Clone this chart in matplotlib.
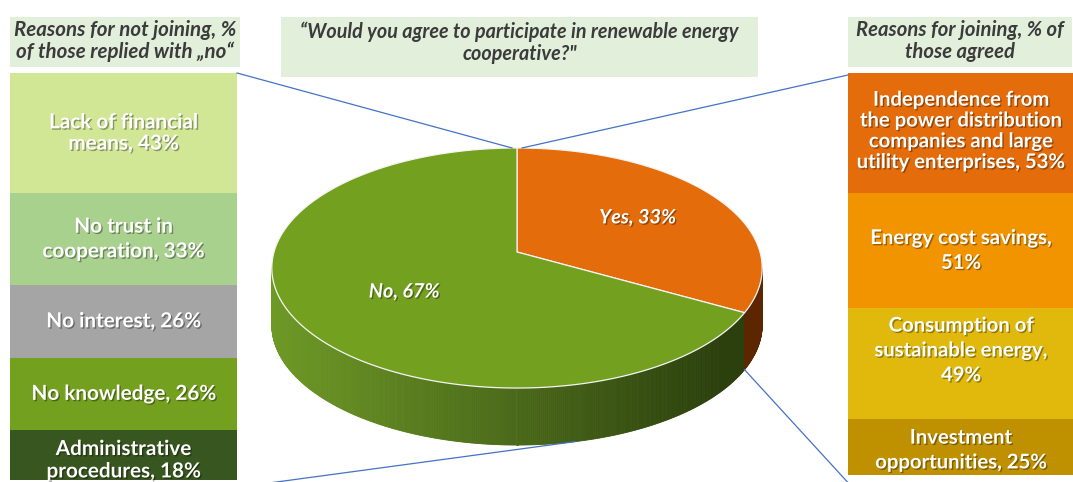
import numpy as np
import matplotlib
matplotlib.use("Agg")
import matplotlib.pyplot as plt
from matplotlib.patches import Polygon, Rectangle
import matplotlib.patheffects as pe

# ---------------- data ----------------
pie_labels = ["Yes", "No"]
pie_values = [33, 67]

no_reasons = ["Lack of financial\nmeans", "No trust in\ncooperation", "No interest",
              "No knowledge", "Administrative\nprocedures"]
no_seps = [", ", ", ", ", ", ", ", ", "]
no_values = [43, 33, 26, 26, 18]
no_colors = ["#D2E795", "#A9D18E", "#A5A5A5", "#74A01F", "#38561F"]

yes_reasons = ["Independence from\nthe power distribution\ncompanies and large\nutility enterprises",
               "Energy cost savings", "Consumption of\nsustainable energy", "Investment\nopportunities"]
yes_seps = [", ", ",\n", ",\n", ", "]
yes_values = [53, 51, 49, 25]
yes_colors = ["#E46C0A", "#F29300", "#E0B90C", "#BF9000"]

title_center = "\u201cWould you agree to participate in renewable energy\ncooperative?\""
title_left = "Reasons for not joining, %\nof those replied with \u201eno\u201c"
title_right = "Reasons for joining, % of\nthose agreed"

# text layout tweaks (style only)
no_spacing = [1.08, 1.3, 1.1, 1.1, 1.15]
no_dy = [0, 0, 0, 0, 5]
yes_spacing = [1.05, 1.3, 1.3, 1.3]
yes_dy = [-2, 0, -13, 3]

plt.rcParams["font.family"] = ["Lato", "DejaVu Sans"]

W, H = 1073, 482
fig = plt.figure(figsize=(W / 100, H / 100), dpi=100)
ax = fig.add_axes([0, 0, 1, 1])
ax.set_xlim(0, W)
ax.set_ylim(H, 0)
ax.axis("off")

TITLE_BG = "#E2EFDA"
TXT_DARK = "#3B3B3B"
LINE_C = "#4472C4"
shadow = [pe.withSimplePatchShadow(offset=(1, -1), shadow_rgbFace="black", alpha=0.35)]

# ---------------- side stacked boxes ----------------
TOP = 73
L_X0, L_W, L_SCALE = 10, 227, 2.79
R_X0, R_W, R_SCALE = 848, 226, 2.26

def stacked(x0, w, scale, cats, seps, vals, cols, fs, spacing, dys):
    bottoms = TOP + np.concatenate([[0], np.cumsum(vals)[:-1]]) * scale
    heights = np.array(vals) * scale
    ax.bar(x0 + w / 2, heights, bottom=bottoms, width=w, color=cols, edgecolor="none", zorder=2)
    for c, s, v, b, h, ls, dy in zip(cats, seps, vals, bottoms, heights, spacing, dys):
        ax.text(x0 + w / 2, b + h / 2 + dy, f"{c}{s}{v}%", ha="center", va="center",
                color="white", fontsize=fs, fontweight="bold", linespacing=ls,
                path_effects=shadow, zorder=5)
    return bottoms, heights

lb, lh = stacked(L_X0, L_W, L_SCALE, no_reasons, no_seps, no_values, no_colors, 14.9,
                 no_spacing, no_dy)
rb, rh = stacked(R_X0, R_W, R_SCALE, yes_reasons, yes_seps, yes_values, yes_colors, 14.6,
                 yes_spacing, yes_dy)

# ---------------- title boxes ----------------
def title_box(x0, x1, y0, y1, txt, ty, fs):
    ax.add_patch(Rectangle((x0, y0), x1 - x0, y1 - y0, facecolor=TITLE_BG, edgecolor="none", zorder=1))
    ax.text((x0 + x1) / 2, ty, txt, ha="center", va="center", color=TXT_DARK,
            fontsize=fs, fontweight="bold", fontstyle="italic", linespacing=1.12, zorder=5)

title_box(10, 240, 17, 67, title_left, 41, 14.8)
title_box(848, 1072, 17, 67, title_right, 41, 14.6)
title_box(281, 758, 17, 77, title_center, 43, 14.2)

# ---------------- 3D pie ----------------
CX, CY, R, RY, K, DEPTH = 517, 252, 243, 117.9, 0.1333, 57

def proj(t_deg, r=1.0, drop=0.0):
    t = np.radians(t_deg)
    u, v = r * np.cos(t), r * np.sin(t)
    s = 1.0 / (1.0 + K * v)
    return CX + R * u * s, CY - RY * v * s + drop

fracs = np.array(pie_values) / np.sum(pie_values)
starts = 90 - np.concatenate([[0], np.cumsum(fracs)[:-1]]) * 360
ends = starts - fracs * 360
top_cols = ["#E46C0A", "#74A01F"]

def slice_of(t):
    for i, (a, b) in enumerate(zip(starts, ends)):
        tt = t
        while tt > a:
            tt -= 360
        while tt < b:
            tt += 360
        if b <= tt <= a:
            return i
    return 1

# side strips (visible front part)
edge = np.degrees(np.arcsin(K))
ts = np.linspace(-180 + edge, -edge, 400)
green_l = np.array([0.43, 0.60, 0.15])
green_d = np.array([0.17, 0.25, 0.05])
brown_l = np.array([0.45, 0.19, 0.0])
brown_d = np.array([0.36, 0.15, 0.0])
for t0, t1 in zip(ts[:-1], ts[1:]):
    tm = (t0 + t1) / 2
    x0, y0 = proj(t0)
    x1, y1 = proj(t1)
    xm = (x0 + x1) / 2
    f = np.clip((xm - (CX - R)) / (2 * R * 0.92), 0, 1)
    i = slice_of(tm)
    col = (green_l * (1 - f) + green_d * f) if i == 1 else (brown_l * (1 - f) + brown_d * f)
    poly = [(x0, y0), (x1, y1), (x1, y1 + DEPTH), (x0, y0 + DEPTH)]
    ax.add_patch(Polygon(poly, closed=True, facecolor=col, edgecolor=col, lw=0.6, zorder=3))

# top face
for i, (a, b) in enumerate(zip(starts, ends)):
    angs = np.linspace(a, b, 200)
    pts = [proj(t) for t in angs]
    poly = [(CX, CY)] + pts
    ax.add_patch(Polygon(poly, closed=True, facecolor=top_cols[i], edgecolor="#F4F4F4",
                         lw=0.9, zorder=4, joinstyle="round"))

# pie labels
label_r = [0.6, 0.6]
label_dx = [0, 18]
for i, (lab, v) in enumerate(zip(pie_labels, pie_values)):
    mid = (starts[i] + ends[i]) / 2
    x, y = proj(mid, label_r[i])
    ax.text(x + label_dx[i], y + 2 * i, f"{lab}, {v}%", ha="center", va="center", color="white",
            fontsize=14.3, fontweight="bold", fontstyle="italic", path_effects=shadow, zorder=6)

# ---------------- connector lines ----------------
lw = 0.9
px, py = proj(90)
ax.plot([L_X0 + L_W, px - 5], [TOP, py], color=LINE_C, lw=lw, zorder=7)
ax.plot([R_X0, px + 5], [TOP + 2, py], color=LINE_C, lw=lw, zorder=7)
bx, by = proj(-78, drop=DEPTH)
l_bottom = lb[-1] + lh[-1]
ax.plot([L_X0 + L_W, bx], [l_bottom + 7, by], color=LINE_C, lw=lw, zorder=7)
ex, ey = proj(ends[0], drop=DEPTH)
ax.plot([ex, R_X0 + 4], [ey, 487], color=LINE_C, lw=lw, zorder=7)

fig.savefig("out.png", dpi=100)
